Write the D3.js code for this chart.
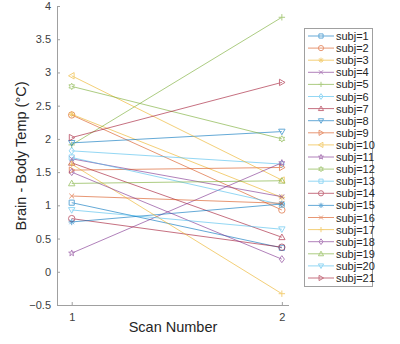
<!DOCTYPE html>
<html><head><meta charset="utf-8">
<script src="https://cdn.jsdelivr.net/npm/d3@7"></script>
<style>body{margin:0;background:#fff}svg{font-family:"Liberation Sans",Arial,sans-serif}</style>
</head><body><svg id="c" width="400" height="344"></svg>
<script>
const subjects = ["subj=1","subj=2","subj=3","subj=4","subj=5","subj=6","subj=7","subj=8","subj=9","subj=10","subj=11","subj=12","subj=13","subj=14","subj=15","subj=16","subj=17","subj=18","subj=19","subj=20","subj=21"];
const scans = [1, 2];
const scan1 = [1.04, 2.36, 2.37, 1.70, 1.91, 1.82, 1.64, 1.94, 1.53, 2.95, 0.28, 2.79, 1.72, 0.80, 0.75, 1.14, 1.62, 1.50, 1.33, 0.93, 2.02];
const scan2 = [0.36, 0.93, 1.12, 1.13, 3.83, 1.62, 0.52, 2.11, 1.57, 1.38, 1.64, 2.00, 1.01, 0.37, 1.02, 1.03, -0.33, 0.19, 1.37, 0.64, 2.85];
const yTicks = [-0.5, 0, 0.5, 1, 1.5, 2, 2.5, 3, 3.5, 4];
const xTicks = [1, 2];
const palette = ["#0072BD","#D95319","#EDB120","#7E2F8E","#77AC30","#4DBEEE","#A2142F"];
const markers = ["s","o","*","x","+","d","^","v",">","<","p","h"];

const svg = d3.select("#c");
const x = d3.scaleLinear().domain([0.93, 2.034]).range([57, 289]);
const y = d3.scaleLinear().domain([-0.5, 4]).range([305, 6]);

function markerPath(m, r) {
  const p = d3.path();
  if (m === "s") { p.rect(-r*0.8, -r*0.8, r*1.6, r*1.6); }
  else if (m === "o") { p.arc(0, 0, r, 0, 2*Math.PI); }
  else if (m === "x") { const a=r*0.75; p.moveTo(-a,-a); p.lineTo(a,a); p.moveTo(-a,a); p.lineTo(a,-a); }
  else if (m === "+") { p.moveTo(-r,0); p.lineTo(r,0); p.moveTo(0,-r); p.lineTo(0,r); }
  else if (m === "*") { const a=r*0.7; p.moveTo(-r,0); p.lineTo(r,0); p.moveTo(0,-r); p.lineTo(0,r); p.moveTo(-a,-a); p.lineTo(a,a); p.moveTo(-a,a); p.lineTo(a,-a); }
  else if (m === "d") { p.moveTo(0,-r*1.1); p.lineTo(r*0.8,0); p.lineTo(0,r*1.1); p.lineTo(-r*0.8,0); p.closePath(); }
  else if (m === "^") { p.moveTo(0,-r); p.lineTo(r,r*0.75); p.lineTo(-r,r*0.75); p.closePath(); }
  else if (m === "v") { p.moveTo(0,r); p.lineTo(r,-r*0.75); p.lineTo(-r,-r*0.75); p.closePath(); }
  else if (m === ">") { p.moveTo(r,0); p.lineTo(-r*0.75,r); p.lineTo(-r*0.75,-r); p.closePath(); }
  else if (m === "<") { p.moveTo(-r,0); p.lineTo(r*0.75,r); p.lineTo(r*0.75,-r); p.closePath(); }
  else if (m === "p" || m === "h") {
    const n = m === "p" ? 5 : 6, ri = m === "p" ? r*0.42 : r*0.55;
    for (let i = 0; i < 2*n; i++) {
      const ang = -Math.PI/2 + i*Math.PI/n, rr = i%2===0 ? r : ri;
      const px = rr*Math.cos(ang), py = rr*Math.sin(ang);
      if (i===0) p.moveTo(px,py); else p.lineTo(px,py);
    }
    p.closePath();
  }
  return p.toString();
}

// axes
const axisColor = "#262626";
const gY = svg.append("g").attr("transform","translate(57,0)")
  .call(d3.axisLeft(y).tickValues(yTicks).tickSize(-3).tickPadding(6).tickFormat(d3.format("")));
const gX = svg.append("g").attr("transform","translate(0,305)")
  .call(d3.axisBottom(x).tickValues(xTicks).tickSize(-3).tickPadding(8).tickFormat(d3.format("d")));
[gY, gX].forEach(g => {
  g.select(".domain").attr("stroke","#a0a0a0").attr("stroke-width",1);
  g.selectAll(".tick line").attr("stroke","#a0a0a0");
  g.selectAll(".tick text").attr("fill","#404040").attr("font-size","11px").attr("font-family","Liberation Sans, Arial, sans-serif");
});
gY.select(".domain").attr("d","M0.5,305.5V6");
gX.select(".domain").attr("d","M57,0.5H289");

// series
const series = subjects.map((s,i) => ({name:s, vals:[scan1[i], scan2[i]], color:palette[i%7], marker:markers[i%12]}));
const plot = svg.append("g");
const line = d3.line().x((d,j)=>x(scans[j])).y(d=>y(d));
series.forEach(s => {
  const g = plot.append("g").attr("opacity",0.6);
  g.append("path").attr("d", line(s.vals)).attr("fill","none").attr("stroke",s.color).attr("stroke-width",1);
  s.vals.forEach((v,j) => {
    g.append("path").attr("d", markerPath(s.marker, 3.2))
      .attr("transform",`translate(${x(scans[j])},${y(v)})`)
      .attr("fill","none").attr("stroke",s.color).attr("stroke-width",1);
  });
});

// labels
svg.append("text").attr("transform","translate(26,156) rotate(-90)").attr("text-anchor","middle")
  .attr("font-size","14.5px").attr("fill","#262626").text("Brain - Body Temp (°C)");
svg.append("text").attr("x",173).attr("y",332).attr("text-anchor","middle")
  .attr("font-size","14.5px").attr("fill","#262626").text("Scan Number");

// legend
const lg = svg.append("g");
lg.append("rect").attr("x",304.5).attr("y",28.5).attr("width",68).attr("height",258)
  .attr("fill","#fff").attr("stroke","#a0a0a0").attr("stroke-width",1);
series.forEach((s,i) => {
  const yy = 36 + i*12.1;
  const g = lg.append("g");
  const gg = g.append("g").attr("opacity",0.6);
  gg.append("line").attr("x1",308).attr("x2",334).attr("y1",yy).attr("y2",yy).attr("stroke",s.color).attr("stroke-width",1);
  gg.append("path").attr("d", markerPath(s.marker, 2.6)).attr("transform",`translate(321,${yy})`)
    .attr("fill","none").attr("stroke",s.color).attr("stroke-width",1);
  g.append("text").attr("x",336).attr("y",yy+4).attr("font-size","11px").attr("fill","#262626").text(s.name);
});
</script></body></html>
